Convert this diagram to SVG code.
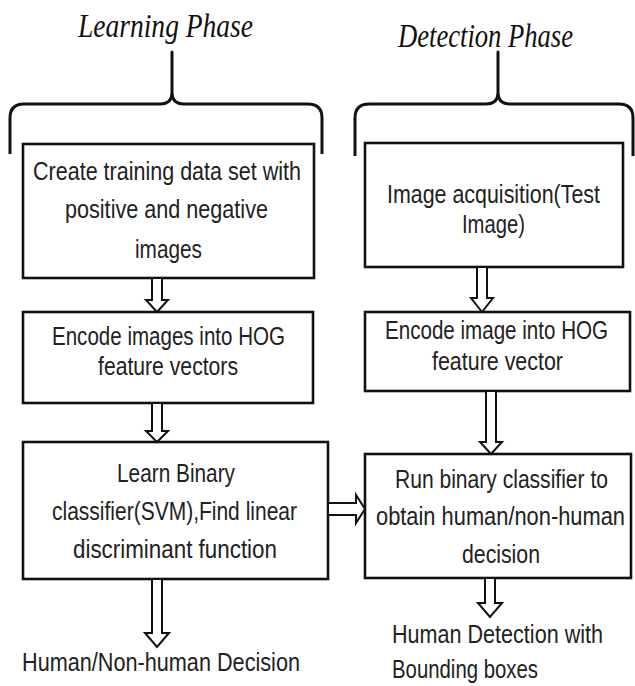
<svg xmlns="http://www.w3.org/2000/svg" width="635" height="686" viewBox="0 0 635 686">
  <style>
    .bg { fill: #ffffff; }
    .box { fill: #ffffff; stroke: #111111; stroke-width: 2.6; }
    .brace { fill: none; stroke: #111111; stroke-width: 3; stroke-linejoin: round; }
    .arrow { fill: #ffffff; stroke: #111111; stroke-width: 2; stroke-linejoin: miter; }
    .title { font-family: "Liberation Serif", "Times New Roman", serif; font-style: italic; font-size: 34px; fill: #111111; }
    .label { font-family: "Liberation Sans", Arial, sans-serif; font-size: 22px; fill: #222222; }
  </style>

  <rect class="bg" x="0" y="0" width="635" height="686"/>

  <!-- phase headings with their braces -->
  <g id="learning-phase">
    <text class="title" x="78" y="37" textLength="175" lengthAdjust="spacingAndGlyphs">Learning Phase</text>
    <path class="brace" d="M10,154 V118 Q10,104 24,104 H160 Q172,104 172,92 V52 Q172,92 172,92 Q172,104 184,104 H308 Q322,104 322,118 V154"/>
  </g>
  <g id="detection-phase">
    <text class="title" x="398" y="47" textLength="175" lengthAdjust="spacingAndGlyphs">Detection Phase</text>
    <path class="brace" d="M355,156 V118 Q355,104 369,104 H486 Q498,104 498,92 V52 Q498,92 498,92 Q498,104 510,104 H619 Q633,104 633,118 V156"/>
  </g>

  <!-- learning column (labels are stretched vertically for tall, narrow lettering) -->
  <g id="create-training-set">
    <rect class="box" x="23" y="144" width="291" height="134"/>
    <text class="label" x="33" transform="translate(0,180) scale(1,1.13)" textLength="268" lengthAdjust="spacingAndGlyphs">Create training data set with</text>
    <text class="label" x="65" transform="translate(0,218) scale(1,1.13)" textLength="203" lengthAdjust="spacingAndGlyphs">positive and negative</text>
    <text class="label" x="135" transform="translate(0,258) scale(1,1.13)" textLength="67" lengthAdjust="spacingAndGlyphs">images</text>
  </g>
  <g id="encode-training-hog">
    <rect class="box" x="23" y="312" width="290" height="91"/>
    <text class="label" x="52" transform="translate(0,345) scale(1,1.13)" textLength="233" lengthAdjust="spacingAndGlyphs">Encode images into HOG</text>
    <text class="label" x="98" transform="translate(0,375) scale(1,1.13)" textLength="140" lengthAdjust="spacingAndGlyphs">feature vectors</text>
  </g>
  <g id="learn-classifier">
    <rect class="box" x="23" y="442" width="305" height="137"/>
    <text class="label" x="117" transform="translate(0,482) scale(1,1.13)" textLength="118" lengthAdjust="spacingAndGlyphs">Learn Binary</text>
    <text class="label" x="52" transform="translate(0,520) scale(1,1.13)" textLength="245" lengthAdjust="spacingAndGlyphs">classifier(SVM),Find linear</text>
    <text class="label" x="73" transform="translate(0,558) scale(1,1.13)" textLength="204" lengthAdjust="spacingAndGlyphs">discriminant function</text>
  </g>
  <g id="learning-output">
    <text class="label" x="22" transform="translate(0,671) scale(1,1.13)" textLength="278" lengthAdjust="spacingAndGlyphs">Human/Non-human Decision</text>
  </g>

  <!-- detection column -->
  <g id="image-acquisition">
    <rect class="box" x="365" y="143" width="258" height="124"/>
    <text class="label" x="387" transform="translate(0,203) scale(1,1.13)" textLength="213" lengthAdjust="spacingAndGlyphs">Image acquisition(Test</text>
    <text class="label" x="462" transform="translate(0,233) scale(1,1.13)" textLength="63" lengthAdjust="spacingAndGlyphs">Image)</text>
  </g>
  <g id="encode-test-hog">
    <rect class="box" x="365" y="312" width="265" height="79"/>
    <text class="label" x="385" transform="translate(0,339) scale(1,1.13)" textLength="223" lengthAdjust="spacingAndGlyphs">Encode image into HOG</text>
    <text class="label" x="432" transform="translate(0,370) scale(1,1.13)" textLength="131" lengthAdjust="spacingAndGlyphs">feature vector</text>
  </g>
  <g id="run-classifier">
    <rect class="box" x="365" y="454" width="266" height="124"/>
    <text class="label" x="395" transform="translate(0,488) scale(1,1.13)" textLength="213" lengthAdjust="spacingAndGlyphs">Run binary classifier to</text>
    <text class="label" x="376" transform="translate(0,525) scale(1,1.13)" textLength="249" lengthAdjust="spacingAndGlyphs">obtain human/non-human</text>
    <text class="label" x="462" transform="translate(0,563) scale(1,1.13)" textLength="78" lengthAdjust="spacingAndGlyphs">decision</text>
  </g>
  <g id="detection-output">
    <text class="label" x="392" transform="translate(0,643) scale(1,1.13)" textLength="211" lengthAdjust="spacingAndGlyphs">Human Detection with</text>
    <text class="label" x="392" transform="translate(0,678) scale(1,1.13)" textLength="146" lengthAdjust="spacingAndGlyphs">Bounding boxes</text>
  </g>

  <!-- hollow block arrows between steps -->
  <g id="connectors">
    <path class="arrow" d="M152,279 V300 H146 L157,312 L168,300 H162 V279"/>
    <path class="arrow" d="M152,404 V431 H146 L157,442 L168,431 H162 V404"/>
    <path class="arrow" d="M152,580 V633 H145 L157,647 L169,633 H162 V580"/>
    <path class="arrow" d="M477,268 V298 H471 L482,312 L493,298 H487 V268"/>
    <path class="arrow" d="M486,392 V442 H480 L491,454 L502,442 H496 V392"/>
    <path class="arrow" d="M485,579 V603 H478 L490,617 L502,603 H495 V579"/>
    <path class="arrow" d="M329,503 H356 V495 L365,509 L356,523 V515 H329"/>
  </g>
</svg>
